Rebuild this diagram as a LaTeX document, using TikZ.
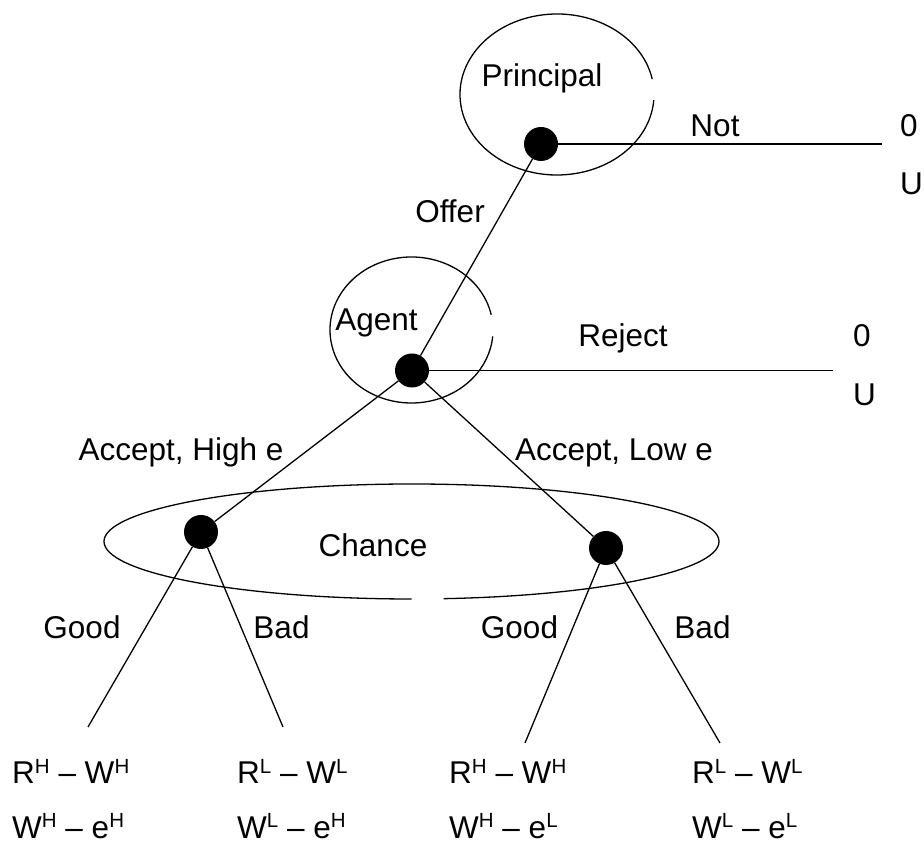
\documentclass[tikz,border=0pt]{standalone}
\usepackage{fontspec}
\setmainfont{Liberation Sans}
% raised, smaller index letter for payoffs (R^H, W^L, e^H ...)
\newcommand\supx[1]{\raisebox{10.5pt}{\fontsize{20.5}{22}\selectfont #1}}
\begin{document}
\begin{tikzpicture}[x=1pt,y=1pt,
  lbl/.style={inner sep=0pt, font=\fontsize{31.5}{36}\selectfont},
  dot/.style={circle, fill=black, inner sep=0pt, minimum size=34pt},
  branch/.style={line width=1.3pt},
  infoset/.style={line width=1.3pt}]
\useasboundingbox (0,0) rectangle (924,843);

% information sets (ellipses with a small opening)
\draw[infoset] (557,748.5) ++(11:97 and 80.5)
  arc[start angle=11, end angle=356, x radius=97, y radius=80.5];
\draw[infoset] (411.5,513) ++(12:81.5 and 73)
  arc[start angle=12, end angle=355, x radius=81.5, y radius=73];
\draw[infoset] (411.5,301.5) ++(-84:307.5 and 57.5)
  arc[start angle=-84, end angle=270, x radius=307.5, y radius=57.5];

% decision and chance nodes
\node[dot] (P)  at (541,699) {};
\node[dot] (A)  at (412,472.5) {};
\node[dot] (CL) at (201,311) {};
\node[dot] (CR) at (606,295) {};

% free ends of the terminal branches
\coordinate (notEnd) at (882,699);
\coordinate (rejEnd) at (833,472.5);
\coordinate (gL) at (88,116);
\coordinate (bL) at (283,116);
\coordinate (gR) at (525,100);
\coordinate (bR) at (720,100);

% branches
\draw[branch] (P) -- (notEnd);
\draw[branch] (P) -- (A);
\draw[branch] (A) -- (rejEnd);
\draw[branch] (A) -- (CL);
\draw[branch] (A) -- (CR);
\draw[branch] (CL) -- (gL);
\draw[branch] (CL) -- (bL);
\draw[branch] (CR) -- (gR);
\draw[branch] (CR) -- (bR);

% player and move labels
\node[lbl, anchor=base] (tPrincipal) at (542,756) {Principal};
\node[lbl, anchor=base] (tNot) at (715,706) {Not};
\node[lbl, anchor=base] (tOffer) at (450,620) {Offer};
\node[lbl, anchor=base] (tAgent) at (376.5,512) {Agent};
\node[lbl, anchor=base] (tReject) at (623,496) {Reject};
\node[lbl, anchor=base] (tHigh) at (181,382) {Accept, High e};
\node[lbl, anchor=base] (tLow) at (614,382) {Accept, Low e};
\node[lbl, anchor=base] (tChance) at (373,286) {Chance};
\node[lbl, anchor=base] (tGoodL) at (82,204) {Good};
\node[lbl, anchor=base] (tBadL) at (281.5,204) {Bad};
\node[lbl, anchor=base] (tGoodR) at (519.5,204) {Good};
\node[lbl, anchor=base] (tBadR) at (702.5,204) {Bad};

% payoffs (principal above, agent below)
\node[lbl, anchor=base west] (pNot1) at (900,706) {0};
\node[lbl, anchor=base west] (pNot2) at (900,648) {U};
\node[lbl, anchor=base west] (pRej1) at (853,496) {0};
\node[lbl, anchor=base west] (pRej2) at (853,437) {U};

\node[lbl, anchor=base west] (p1a) at (12,59) {R\supx{H} -- W\supx{H}};
\node[lbl, anchor=base west] (p1b) at (12,4.5) {W\supx{H} -- e\supx{H}};
\node[lbl, anchor=base west] (p2a) at (237,59) {R\supx{L} -- W\supx{L}};
\node[lbl, anchor=base west] (p2b) at (237,4.5) {W\supx{L} -- e\supx{H}};
\node[lbl, anchor=base west] (p3a) at (449,59) {R\supx{H} -- W\supx{H}};
\node[lbl, anchor=base west] (p3b) at (449,4.5) {W\supx{H} -- e\supx{L}};
\node[lbl, anchor=base west] (p4a) at (692,59) {R\supx{L} -- W\supx{L}};
\node[lbl, anchor=base west] (p4b) at (692,4.5) {W\supx{L} -- e\supx{L}};
\end{tikzpicture}
\end{document}
